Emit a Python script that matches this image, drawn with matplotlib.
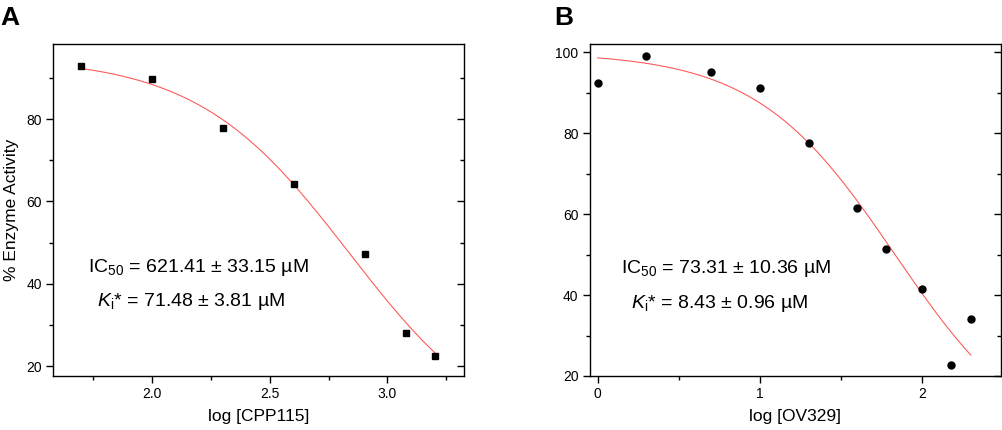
import numpy as np
import matplotlib
matplotlib.use("Agg")
import matplotlib.pyplot as plt

plt.rcParams["font.family"] = ["Liberation Sans", "DejaVu Sans"]
plt.rcParams["mathtext.fontset"] = "custom"
plt.rcParams["mathtext.rm"] = "Liberation Sans"
plt.rcParams["mathtext.it"] = "Liberation Sans:italic"

# Panel A: CPP115 (log uM) vs % activity
log_cpp = [1.699, 2.0, 2.301, 2.602, 2.903, 3.079, 3.204]
act_cpp = [92.8, 89.7, 77.8, 64.2, 47.2, 28.1, 22.4]
fit_cpp = dict(top=95.0, bottom=0.0, logic50=2.838, hill=1.342)

# Panel B: OV329 (log uM) vs % activity
log_ov = [0.0, 0.301, 0.699, 1.0, 1.301, 1.602, 1.778, 2.0, 2.176, 2.301]
act_ov = [92.5, 99.1, 95.2, 91.1, 77.6, 61.4, 51.3, 41.4, 22.8, 34.1]
fit_ov = dict(top=100.0, bottom=0.0, logic50=1.8335, hill=1.0134)

def dose_resp(x, top, bottom, logic50, hill):
    return bottom + (top - bottom) / (1 + 10 ** ((x - logic50) * hill))

def style_ax(ax):
    for s in ax.spines.values():
        s.set_linewidth(1.0)
    ax.tick_params(axis="both", which="both", labelsize=10, width=1.0)
    ax.tick_params(axis="x", which="major", direction="out", length=5, pad=3)
    ax.tick_params(axis="x", which="minor", direction="out", length=3)
    ax.tick_params(axis="y", which="major", direction="out", length=5, right=True, pad=3)
    ax.tick_params(axis="y", which="minor", direction="out", length=3, right=True)
    # right-side ticks point inward
    for t in ax.yaxis.get_major_ticks() + ax.yaxis.get_minor_ticks():
        t.tick2line.set_marker(matplotlib.lines.TICKLEFT)

fig = plt.figure(figsize=(10.02, 4.30), dpi=100)
axA = fig.add_axes([0.0529, 0.1256, 0.4102, 0.7721])
axB = fig.add_axes([0.5885, 0.1256, 0.4102, 0.7721])

red = "#ff5252"

# ---- A ----
xs = np.linspace(log_cpp[0], log_cpp[-1], 200)
axA.plot(xs, dose_resp(xs, **fit_cpp), color=red, lw=0.75)
axA.plot(log_cpp, act_cpp, "s", color="black", ms=4.8, ls="none")
axA.set_xlim(1.579, 3.326)
axA.set_ylim(17.65, 98.2)
axA.set_xticks([2.0, 2.5, 3.0])
axA.set_xticklabels(["2.0", "2.5", "3.0"])
axA.set_xticks([1.75, 2.25, 2.75, 3.25], minor=True)
axA.set_yticks([20, 40, 60, 80])
axA.set_yticks([30, 50, 70, 90], minor=True)
axA.set_xlabel("log [CPP115]", fontsize=12.5, labelpad=6)
axA.set_ylabel("% Enzyme Activity", fontsize=12.5, labelpad=5)
style_ax(axA)
axA.text(1.728, 43.9, "IC$_{50}$ = 621.41 ± 33.15 µM", fontsize=14, ha="left", va="center")
axA.text(1.766, 35.7, "$K_\\mathrm{i}$* = 71.48 ± 3.81 µM", fontsize=14, ha="left", va="center")

# ---- B ----
xs = np.linspace(log_ov[0], log_ov[-1], 200)
axB.plot(xs, dose_resp(xs, **fit_ov), color=red, lw=0.75)
axB.plot(log_ov, act_ov, "o", color="black", ms=5, ls="none")
axB.set_xlim(-0.049, 2.485)
axB.set_ylim(20, 102.06)
axB.set_xticks([0, 1, 2])
axB.set_xticklabels(["0", "1", "2"])
axB.set_xticks([0.5, 1.5], minor=True)
axB.set_yticks([20, 40, 60, 80, 100])
axB.set_yticks([30, 50, 70, 90], minor=True)
axB.set_xlabel("log [OV329]", fontsize=12.5, labelpad=6)
style_ax(axB)
axB.text(0.142, 46.5, "IC$_{50}$ = 73.31 ± 10.36 µM", fontsize=14, ha="left", va="center")
axB.text(0.203, 38.0, "$K_\\mathrm{i}$* = 8.43 ± 0.96 µM", fontsize=14, ha="left", va="center")

fig.text(0.0, 0.985, "A", fontsize=19, fontweight="bold", ha="left", va="top")
fig.text(0.553, 0.985, "B", fontsize=19, fontweight="bold", ha="left", va="top")

fig.savefig("out.png", dpi=100)
